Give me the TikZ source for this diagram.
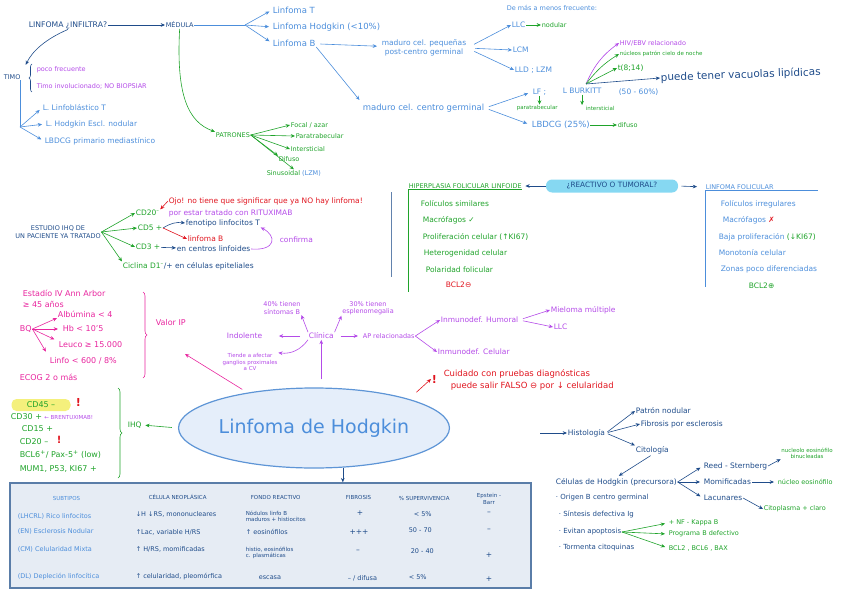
\documentclass[tikz,border=0pt]{standalone}
\usepackage{fontspec}
\setmainfont{DejaVu Sans}
\usetikzlibrary{arrows.meta,positioning,shapes.geometric,decorations.pathreplacing}
\definecolor{dblue}{HTML}{1F4C8A}
\definecolor{lblue}{HTML}{4C8EDB}
\definecolor{grn}{HTML}{1FA32A}
\definecolor{purp}{HTML}{B44BE8}
\definecolor{pnk}{HTML}{E8259E}
\definecolor{rd}{HTML}{E0141E}
\definecolor{pillc}{HTML}{86D8F2}
\definecolor{ylw}{HTML}{F4F07C}
\definecolor{tabfill}{HTML}{E6ECF4}
\definecolor{tabline}{HTML}{5A7DA8}
\definecolor{ellfill}{HTML}{E5EEFA}
\definecolor{elline}{HTML}{5E95D6}
\newcommand{\hw}{\fontsize{7.5}{8.5}\selectfont}
\newcommand{\hwb}{\fontsize{8.5}{9.5}\selectfont}
\newcommand{\hws}{\fontsize{6.5}{7.5}\selectfont}
\newcommand{\hwt}{\fontsize{5.5}{6.3}\selectfont}
\newcommand{\hwc}{\fontsize{6.5}{8}\selectfont}
\newcommand{\hwl}{\fontsize{10.5}{12}\selectfont}

\begin{document}
\begin{tikzpicture}[x=1pt,y=-1pt,line width=0.6pt,
 every node/.style={font=\hw,inner sep=0.5pt,anchor=west},
 arr/.style={-{Stealth[length=1.5mm,width=1.3mm]}},
 hd/.style={font=\hwc},
 db/.style={text=dblue},lb/.style={text=lblue},gn/.style={text=grn},
 pu/.style={text=purp},pk/.style={text=pnk,font=\fontsize{8}{9}\selectfont},re/.style={text=rd}]
\useasboundingbox (0,0) rectangle (848,599);

% ---- medula / timo
\node[db,font=\fontsize{7.7}{9}\selectfont] (inf) at (28,25) {LINFOMA ¿INFILTRA?};
\node[db,hd] (med) at (165,25) {MÉDULA};
\node[db,hd] (timo) at (3,77) {TIMO};
\node[pu,font=\hws] (poco) at (36,70) {poco frecuente};
\node[pu,font=\hws] (tinv) at (36,86) {Timo involucionado; NO BIOPSIAR};
\coordinate (tb) at (20,127);
\node[lb] (llt) at (42,108) {L. Linfoblástico T};
\node[lb] (lhe) at (45,124) {L. Hodgkin Escl. nodular};
\node[lb] (lbm) at (44,141) {LBDCG primario mediastínico};
\draw[arr,dblue] (inf) -- (med);
\draw[arr,dblue,shorten >=10pt] (inf.south) to[bend right=20] (timo.north east);
\draw[dblue,decorate,decoration={brace,amplitude=3pt}] (32,92) -- (32,64);
\draw[lblue] (timo.south -| tb) -- (tb);
\draw[arr,lblue,shorten >=3pt] (tb) -- (llt.west);
\draw[arr,lblue,shorten >=3pt] (tb) -- (lhe.west);
\draw[arr,lblue,shorten >=3pt] (tb) -- (lbm.west);

\coordinate (mb) at (245,25);
\node[lb,font=\hwb] (lt) at (272,10) {Linfoma T};
\node[lb,font=\hwb] (lh) at (272,27) {Linfoma Hodgkin (<10\%)};
\node[lb,font=\hwb] (lbb) at (272,43) {Linfoma B};
\draw[lblue] (med) -- (mb);
\draw[arr,lblue,shorten >=3pt] (mb) -- (lt.west);
\draw[arr,lblue,shorten >=3pt] (mb) -- (lh.west);
\draw[arr,lblue,shorten >=3pt] (mb) -- (lbb.west);

\node[lb,align=center,anchor=center] (mcp) at (424,48) {maduro cel. pequeñas\\post-centro germinal};
\node[lb,font=\hwb] (mcg) at (362,108) {maduro cel. centro germinal};
\draw[arr,lblue,shorten <=4pt,shorten >=4pt] (lbb) -- (mcp);
\draw[arr,lblue,shorten >=4pt] (lbb.south east) -- (mcg.north west);

\node[lb,font=\hws] (dmm) at (506,8) {De más a menos frecuente:};
\node[lb] (llc) at (511,25) {LLC};
\node[gn,font=\hws] (nod) at (541,25) {nodular};
\node[lb] (lcm) at (512,50) {LCM};
\node[lb] (lld) at (514,70) {LLD ; LZM};
\draw[arr,grn] (llc) -- (nod);
\draw[arr,lblue,shorten <=8pt] (mcp.east) -- (llc.west);
\draw[arr,lblue,shorten <=8pt] (mcp.east) -- (lcm.west);
\draw[arr,lblue,shorten <=8pt] (mcp.east) -- (lld.west);

\node[lb] (lf) at (532,92) {LF ;};
\node[lb] (lbk) at (562,91) {L BURKITT};
\node[lb] (pct) at (618,92) {(50 - 60\%)};
\node[gn,font=\hwt] (ptb) at (516,108) {paratrabecular};
\node[gn,font=\hwt] (its) at (585,108) {intersticial};
\draw[arr,grn] (lf.south) -- (lf.south |- ptb.north);
\draw[arr,grn] (lbk.south) -- (lbk.south |- its.north);
\node[lb,font=\hwb] (lbd) at (531,125) {LBDCG (25\%)};
\node[gn,font=\hws] (dif) at (617,125) {difuso};
\draw[arr,grn] (lbd) -- (dif);
\draw[arr,lblue,shorten <=4pt,shorten >=4pt] (mcg.east) -- (lf.west);
\draw[arr,lblue,shorten <=4pt,shorten >=4pt] (mcg.east) -- (lbd.west);

\coordinate (fo) at (586,84);
\node[pu,font=\hws] (hiv) at (619,43) {HIV/EBV relacionado};
\node[gn,font=\hwt] (nuc) at (619,54) {núcleos patrón cielo de noche};
\node[gn] (t814) at (617,68) {t(8;14)};
\node[db,font=\hwl,rotate=2] (vac) at (660,78) {puede tener vacuolas lipídicas};
\draw[arr,purp] (fo) to[bend left=15] (hiv.west);
\draw[arr,grn] (fo) to[bend left=10] (nuc.west);
\draw[arr,grn] (fo) -- (t814.west);
\draw[arr,dblue] (fo) -- (vac.west);

% ---- patrones
\node[gn,hd] (pat) at (215,135) {PATRONES};
\node[gn,font=\hws] (foc) at (290,125) {Focal / azar};
\node[gn,font=\hws] (par) at (295,136) {Paratrabecular};
\node[gn,font=\hws] (int) at (290,149) {Intersticial};
\node[gn,font=\hws] (dfs) at (278,159) {Difuso};
\node[gn,font=\hws] (sin) at (266,173) {Sinusoidal \textcolor{lblue}{(LZM)}};
\draw[arr,grn] (med.south) .. controls (176,95) and (188,122) .. (pat.north west);
\draw[arr,grn] (pat.east) -- (foc.west);
\draw[arr,grn] (pat.east) -- (par.west);
\draw[arr,grn] (pat.east) -- (int.west);
\draw[arr,grn] (pat.east) -- (dfs.north west);
\draw[arr,grn] (pat.east) -- (sin.north);

% ---- estudio IHQ
\node[db,hd,align=center,anchor=center] (est) at (58,232) {ESTUDIO IHQ DE\\UN PACIENTE YA TRATADO};
\node[gn] (cd20) at (135,213) {CD20\textsuperscript{–}};
\node[gn] (cd5) at (137,228) {CD5 +};
\node[gn] (cd3) at (135,247) {CD3 +};
\node (cic) at (122,266) {\textcolor{grn}{Ciclina D1\textsuperscript{–}}\textcolor{dblue}{/+ en células epiteliales}};
\draw[arr,grn] (est.east) -- (cd20.west);
\draw[arr,grn] (est.east) -- (cd5.west);
\draw[arr,grn] (est.east) -- (cd3.west);
\draw[arr,grn] (est.east) -- (cic.north west);
\node[re] (ojo) at (168,201) {Ojo! no tiene que significar que ya NO hay linfoma!};
\node[pu] (rit) at (168,213) {por estar tratado con RITUXIMAB};
\draw[arr,rd] (ojo.west) -- (cd20.north east);
\node[db] (fen) at (185,223) {fenotipo linfocitos T};
\node[re] (lfb) at (187,239) {linfoma B};
\draw[arr,dblue] (cd5.east) to[bend left=20] (fen.west);
\draw[arr,rd] (cd5.east) -- (lfb.west);
\node[db] (ecl) at (176,249) {en centros linfoides};
\draw[arr,dblue] (cd3) -- (ecl);
\node[pu] (conf) at (279,240) {confirma};
\draw[arr,purp] (ecl.east) .. controls (276,251) and (277,236) .. (fen.south east);
\draw[dblue!70,semithick] (391,192) -- (391,277);

% ---- reactivo o tumoral
\node[gn,hd] (hip) at (408,186) {HIPERPLASIA FOLICULAR LINFOIDE};
\draw[grn] (hip.south west) -- (hip.south east);
\draw[grn] (hip.south west) -- ++(0,103);
\node[gn] (h1) at (420,204) {Folículos similares};
\node[gn] (h2) at (422,220) {Macrófagos ✓};
\node[gn] (h3) at (422,237) {Proliferación celular (↑KI67)};
\node[gn] (h4) at (423,253) {Heterogenidad celular};
\node[gn] (h5) at (425,270) {Polaridad folicular};
\node[re] (h6) at (445,285) {BCL2⊖};
\node[fill=pillc,rounded corners=6pt,anchor=center,font=\fontsize{7.3}{8}\selectfont,text=dblue,minimum width=132pt,minimum height=13pt] (pill) at (612,186) {¿REACTIVO O TUMORAL?};
\draw[arr,dblue,shorten >=3pt] (pill.west) -- (hip.east);
\node[lb,hd] (lfo) at (705,187) {LINFOMA FOLICULAR};
\draw[arr,dblue,shorten <=3pt,shorten >=8pt] (pill.east) -- (lfo.west);
\draw[lblue] (lfo.south west) -- ++(113,0);
\draw[lblue] (lfo.south west) -- ++(0,97);
\node[lb] (f1) at (720,204) {Folículos irregulares};
\node[lb] (f2) at (722,220) {Macrófagos \textcolor{rd}{✗}};
\node[lb] (f3) at (718,237) {Baja proliferación \textcolor{grn}{(↓KI67)}};
\node[lb] (f4) at (718,253) {Monotonía celular};
\node[lb] (f5) at (720,269) {Zonas poco diferenciadas};
\node[gn] (f6) at (748,286) {BCL2⊕};

% ---- valor IP
\node[pk] (ann) at (22,293) {Estadío IV Ann Arbor};
\node[pk] (a45) at (22,304) {≥ 45 años};
\node[pk] (alb) at (57,314) {Albúmina < 4};
\node[pk] (bq) at (19,329) {BQ};
\node[pk] (hb) at (62,329) {Hb < 10'5};
\node[pk] (leu) at (58,345) {Leuco ≥ 15.000};
\node[pk] (lin) at (49,361) {Linfo < 600 / 8\%};
\node[pk] (ecog) at (19,377) {ECOG 2 o más};
\draw[arr,pnk] (bq.east) -- (alb.south west);
\draw[arr,pnk,shorten >=4pt] (bq.east) -- (hb.west);
\draw[arr,pnk,shorten >=4pt] (bq.east) -- (leu.north west);
\draw[arr,pnk,shorten >=6pt] (bq.east) -- (lin.north west);
\draw[pnk,decorate,decoration={brace,amplitude=4pt}] (143,292) -- (143,378);
\node[pk] (vip) at (155,323) {Valor IP};

% ---- IHQ
\node[fill=ylw,rounded corners=5pt,anchor=center,text=grn,font=\fontsize{8}{9}\selectfont,minimum width=59pt,minimum height=12pt] (cd45) at (41,405) {CD45 –};
\node[re,font=\bfseries\fontsize{11}{11}\selectfont] (ex1) at (75,402) {!};
\node (cd30) at (10,417) {\textcolor{grn}{\fontsize{8}{9}\selectfont CD30 +} \textcolor{purp}{\hwt ← BRENTUXIMAB!}};
\node[gn,font=\fontsize{8}{9}\selectfont] (cd15) at (21,429) {CD15 +};
\node[gn,font=\fontsize{8}{9}\selectfont] (cd2b) at (19,442) {CD20 –};
\node[re,font=\bfseries\fontsize{10}{10}\selectfont] (ex2) at (56,440) {!};
\node[gn,font=\fontsize{8}{9}\selectfont] (bcl6) at (19,455) {BCL6\textsuperscript{+}/ Pax-5\textsuperscript{+} (low)};
\node[gn,font=\fontsize{8}{9}\selectfont] (mum) at (19,469) {MUM1, P53, KI67 +};
\draw[grn,decorate,decoration={brace,amplitude=4pt}] (118,388) -- (118,478);
\node[gn] (ihq) at (127,425) {IHQ};

% ---- centro
\node[ellipse,draw=elline,fill=ellfill,line width=1.2pt,minimum width=251pt,minimum height=80pt,anchor=center,font=\fontsize{19}{22}\selectfont,text=lblue] (ell) at (314,428) {Linfoma de Hodgkin};
\coordinate (ipt) at (185,354);
\draw[arr,pnk,shorten <=6pt] (ell.152) -- (ipt);
\draw[arr,grn,shorten <=6pt,shorten >=3pt] (ell.west) -- (ihq.east);

% ---- clinica
\node[pu] (cli) at (308,336) {Clínica};
\node[pu] (ind) at (226,336) {Indolente};
\node[pu,font=\hwt,align=center,anchor=center] (tie) at (250,362) {Tiende a afectar\\ganglios proximales\\a CV};
\node[pu,font=\hws,align=center,anchor=center] (m40) at (282,308) {40\% tienen\\síntomas B};
\node[pu,font=\hws,align=center,anchor=center] (m30) at (368,308) {30\% tienen\\esplenomegalia};
\node[pu,font=\hws] (apr) at (362,336) {AP relacionadas};
\node[pu] (ihum) at (440,320) {Inmunodef. Humoral};
\node[pu] (icel) at (437,352) {Inmunodef. Celular};
\node[pu] (mm) at (550,310) {Mieloma múltiple};
\node[pu] (llc2) at (553,327) {LLC};
\draw[arr,purp,shorten <=8pt] (cli.south |- ell.north) -- (cli.south);
\draw[arr,purp,shorten <=8pt,shorten >=16pt] (cli.west) -- (ind.east);
\draw[arr,purp] (cli.south west) to[bend left=30] (tie.north east);
\draw[arr,purp] (cli.north west) -- (m40.south east);
\draw[arr,purp] (cli.north east) -- (m30.south west);
\draw[arr,purp,shorten <=6pt,shorten >=4pt] (cli.east) -- (apr.west);
\draw[arr,purp] (apr.east) -- (ihum.west);
\draw[arr,purp] (apr.east) -- (icel.west);
\draw[arr,purp,shorten <=4pt] (ihum.east) -- (mm.west);
\draw[arr,purp,shorten <=4pt] (ihum.east) -- (llc2.west);

\node[re,font=\bfseries\fontsize{11}{11}\selectfont] (exc) at (431,379) {!};
\node[re,font=\hwb] (cu1) at (443,374) {Cuidado con pruebas diagnósticas};
\node[re,font=\hwb] (cu2) at (450,386) {puede salir FALSO ⊖ por ↓ celularidad};
\draw[arr,rd,shorten <=10pt] (ell.17) -- (exc.west);

% ---- histologia
\coordinate (hs) at (540,433);
\node[db] (his) at (567,433) {Histología};
\node[db] (pnod) at (635,411) {Patrón nodular};
\node[db] (fib) at (640,424) {Fibrosis por esclerosis};
\node[db] (cit) at (635,450) {Citología};
\draw[arr,dblue] (hs) -- (his);
\draw[arr,dblue,shorten <=2pt] (his.east) -- (pnod.west);
\draw[arr,dblue,shorten <=2pt] (his.east) -- (fib.west);
\draw[arr,dblue,shorten <=2pt] (his.east) -- (cit.north west);
\node[db] (ceh) at (555,482) {Células de Hodgkin (precursora)};
\draw[arr,dblue,shorten <=2pt,shorten >=3pt] (cit.south) -- (ceh.north);
\node[db] (rs) at (703,466) {Reed - Sternberg};
\node[db] (mom) at (703,482) {Momificadas};
\node[db] (lac) at (703,498) {Lacunares};
\draw[arr,dblue,shorten >=3pt] (ceh.east) -- (rs.west);
\draw[arr,dblue,shorten >=3pt] (ceh.east) -- (mom.west);
\draw[arr,dblue,shorten >=3pt] (ceh.east) -- (lac.west);
\node[gn,font=\hwt,align=center,anchor=center] (nuce) at (807,453) {nucleolo eosinófilo\\binucleadas};
\node[gn,font=\hws] (nce) at (777,482) {núcleo eosinófilo};
\node[gn,font=\hws] (cpc) at (763,509) {Citoplasma + claro};
\draw[arr,dblue] (rs.east) -- (nuce.south west);
\draw[arr,dblue,shorten >=3pt] (mom) -- (nce);
\draw[arr,dblue] (lac.east) -- (cpc.west);
\node[db,font=\fontsize{7}{8}\selectfont] (ori) at (555,498) {· Origen B centro germinal};
\node[db,font=\fontsize{7}{8}\selectfont] (sdi) at (558,514) {· Síntesis defectiva Ig};
\node[db,font=\fontsize{7}{8}\selectfont] (evi) at (558,532) {· Evitan apoptosis};
\node[db,font=\fontsize{7}{8}\selectfont] (tor) at (558,548) {· Tormenta citoquinas};
\node[gn,font=\hws] (nfk) at (668,523) {+ NF - Kappa B};
\node[gn,font=\hws] (prg) at (668,534) {Programa B defectivo};
\node[gn,font=\hws] (bcl) at (668,548) {BCL2 , BCL6 , BAX};
\draw[arr,grn,shorten >=3pt] (evi.east) -- (nfk.west);
\draw[arr,grn,shorten >=3pt] (evi.east) -- (prg.west);
\draw[arr,grn,shorten >=3pt] (evi.east) -- (bcl.west);

% ---- tabla subtipos
\node[draw=tabline,line width=1.5pt,fill=tabfill,minimum width=521pt,minimum height=105pt,anchor=center] (tab) at (270.5,535.5) {};
\draw[arr,dblue] (ell.-54) -- (ell.-54 |- tab.north);
\node[lb,font=\hwt] (c1) at (52,498) {SUBTIPOS};
\node[db,font=\hwt] (c2) at (148,497) {CÉLULA NEOPLÁSICA};
\node[db,font=\hwt] (c3) at (250,497) {FONDO REACTIVO};
\node[db,font=\hwt] (c4) at (345,497) {FIBROSIS};
\node[db,font=\hwt] (c5) at (398,498) {\% SUPERVIVENCIA};
\node[db,font=\hwt,align=center,anchor=center] (c6) at (489,499) {Epstein -\\Barr};
\node[lb,font=\hws] (r1a) at (17,516) {(LHCRL) Rico linfocitos};
\node[db,font=\hws] (r1b) at (135,514) {↓H ↓RS, mononucleares};
\node[db,font=\hwt,align=left] (r1c) at (245,516) {Nódulos linfo B\\maduros + histiocitos};
\node[db,anchor=center] (r1d) at (360,513) {+};
\node[db,font=\hws] (r1e) at (413,514) {< 5\%};
\node[db,anchor=center] (r1f) at (489,513) {–};
\node[lb,font=\hws] (r2a) at (17,531) {(EN) Esclerosis Nodular};
\node[db,font=\hws] (r2b) at (135,532) {↑Lac, variable H/RS};
\node[db,font=\hws] (r2c) at (245,532) {↑ eosinófilos};
\node[db,anchor=center] (r2d) at (359,532) {+++};
\node[db,font=\hws] (r2e) at (408,530) {50 - 70};
\node[db,anchor=center] (r2f) at (489,530) {–};
\node[lb,font=\hws] (r3a) at (17,549) {(CM) Celularidad Mixta};
\node[db,font=\hws] (r3b) at (135,549) {↑ H/RS, momificadas};
\node[db,font=\hwt,align=left] (r3c) at (245,553) {histio, eosinófilos\\c. plasmáticas};
\node[db,anchor=center] (r3d) at (358,551) {–};
\node[db,font=\hws] (r3e) at (410,551) {20 - 40};
\node[db,anchor=center] (r3f) at (489,555) {+};
\node[lb,font=\hws] (r4a) at (17,577) {(DL) Depleción linfocítica};
\node[db,font=\hws] (r4b) at (135,577) {↑ celularidad, pleomórfica};
\node[db,font=\hws] (r4c) at (258,578) {escasa};
\node[db,font=\hws] (r4d) at (347,578) {– / difusa};
\node[db,font=\hws] (r4e) at (408,577) {< 5\%};
\node[db,anchor=center] (r4f) at (489,579) {+};
\end{tikzpicture}
\end{document}
